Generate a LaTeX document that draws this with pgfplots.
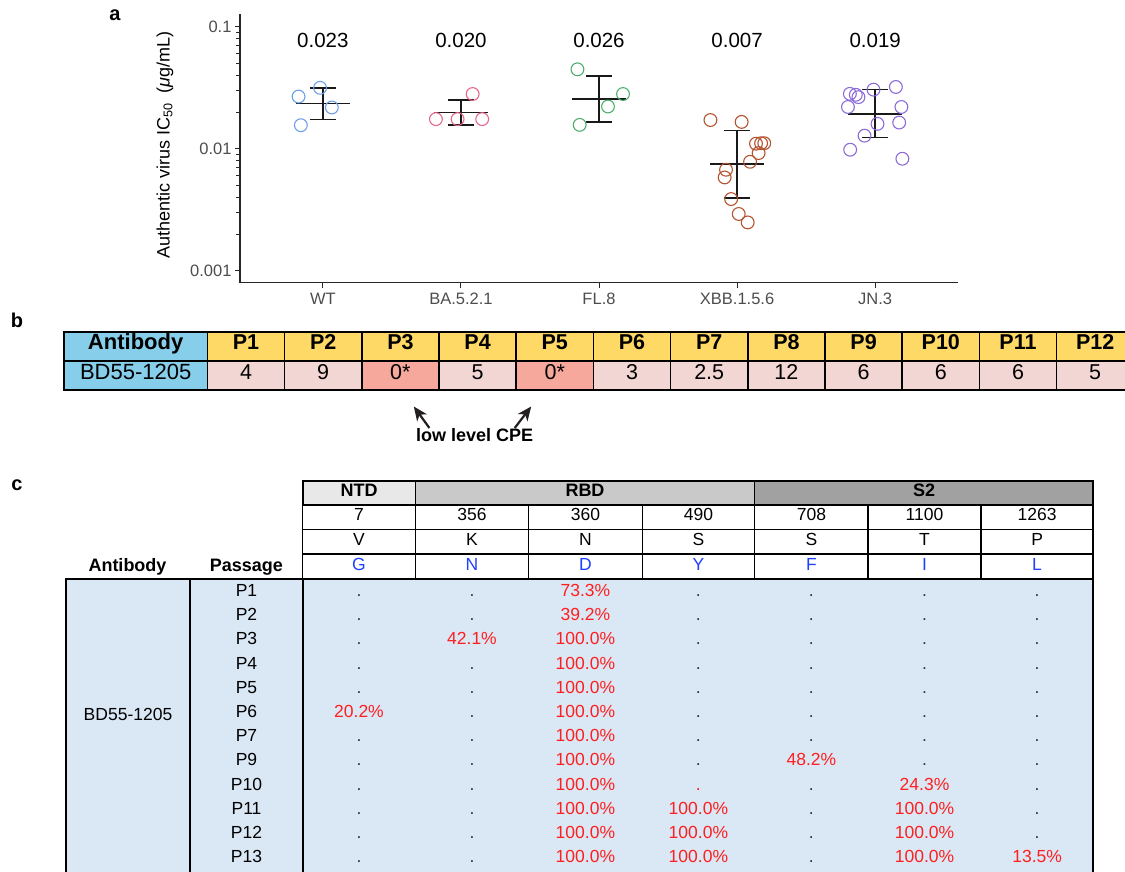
\documentclass[border=0pt]{standalone}
\usepackage{fontspec}
\setmainfont{Liberation Sans}
\usepackage{pgfplots}
\pgfplotsset{compat=1.18}
\usetikzlibrary{arrows.meta}
\newcommand\fs[1]{\fontsize{#1}{#1}\selectfont}
\definecolor{cwt}{HTML}{6D9EEB}
\definecolor{cba}{HTML}{E8668A}
\definecolor{cfl}{HTML}{4DAF6E}
\definecolor{cxbb}{HTML}{B4532E}
\definecolor{cjn}{HTML}{8C6AD8}
\definecolor{skyb}{HTML}{87CEEB}
\definecolor{yel}{HTML}{FFD966}
\definecolor{pinkc}{HTML}{F2D6D3}
\definecolor{salm}{HTML}{F5A89B}
\definecolor{ntd}{HTML}{E8E8E8}
\definecolor{rbd}{HTML}{C9C9C9}
\definecolor{stwo}{HTML}{A1A1A1}
\definecolor{bodyb}{HTML}{DAE8F6}
\definecolor{mutb}{HTML}{1F3FFF}
\definecolor{redc}{HTML}{FF1F1F}
\definecolor{dotc}{HTML}{333333}
\definecolor{tickg}{HTML}{4D4D4D}
\definecolor{arrc}{HTML}{231F20}
\newcommand\dt{\textcolor{dotc}{.}}
\newcommand\pc[1]{\textcolor{redc}{#1\%}}
\tikzset{tc/.style={text height=0.716em, text depth=0pt, inner sep=0pt, anchor=center}}
\newcommand\crow[9]{%
  \node[tc] at (246.5,#1) {#2};
  \node[tc] at (359,#1) {#3};
  \node[tc] at (472,#1) {#4};
  \node[tc] at (585.4,#1) {#5};
  \node[tc] at (698.4,#1) {#6};
  \node[tc] at (811.4,#1) {#7};
  \node[tc] at (924.5,#1) {#8};
  \node[tc] at (1037.1,#1) {#9};
}
\begin{document}
\begin{tikzpicture}
\useasboundingbox (0pt,0pt) rectangle (1125pt,871pt);
\clip (0pt,0pt) rectangle (1125pt,871pt);
\begin{axis}[
  at={(240pt,588.3pt)}, anchor=south west, scale only axis,
  width=718pt, height=269pt,
  ymode=log, ymin=0.000798, ymax=0.128, xmin=-0.6, xmax=4.6,
  axis x line*=bottom, axis y line*=left,
  axis line style={-, line width=1.2pt, black!85},
  xtick={0,1,2,3,4}, xticklabels={WT,BA.5.2.1,FL.8,XBB.1.5.6,JN.3},
  ytick={0.001,0.01,0.1}, yticklabels={0.001,0.01,0.1},
  minor ytick={0.002,0.003,0.004,0.005,0.006,0.007,0.008,0.009,0.02,0.03,0.04,0.05,0.06,0.07,0.08,0.09},
  tick align=outside, major tick length=5pt, minor tick length=4pt,
  tick style={line width=1pt, black!85},
  ticklabel style={font=\fs{16.5}, text=tickg},
  xticklabel style={yshift=-2pt},
  ylabel={Authentic virus IC\textsubscript{50}\ \ (\textit{μ}g/mL)},
  ylabel style={font=\fs{18}, at={(axis description cs:-0.1045,0.511)}, anchor=center},
  clip=false,
]
% error bars: vertical, caps, mean
\addplot[black!90, line width=1.5pt] coordinates {(0,0.0173) (0,0.0314)};
\addplot[black!90, line width=1.5pt] coordinates {(-0.094,0.0173) (0.094,0.0173)};
\addplot[black!90, line width=1.5pt] coordinates {(-0.094,0.0314) (0.094,0.0314)};
\addplot[black!90, line width=1.5pt] coordinates {(-0.195,0.0234) (0.195,0.0234)};
\addplot[black!90, line width=1.5pt] coordinates {(1,0.0157) (1,0.0251)};
\addplot[black!90, line width=1.5pt] coordinates {(0.906,0.0157) (1.094,0.0157)};
\addplot[black!90, line width=1.5pt] coordinates {(0.906,0.0251) (1.094,0.0251)};
\addplot[black!90, line width=1.5pt] coordinates {(0.805,0.0199) (1.195,0.0199)};
\addplot[black!90, line width=1.5pt] coordinates {(2,0.0166) (2,0.0396)};
\addplot[black!90, line width=1.5pt] coordinates {(1.906,0.0166) (2.094,0.0166)};
\addplot[black!90, line width=1.5pt] coordinates {(1.906,0.0396) (2.094,0.0396)};
\addplot[black!90, line width=1.5pt] coordinates {(1.805,0.0257) (2.195,0.0257)};
\addplot[black!90, line width=1.5pt] coordinates {(3,0.00394) (3,0.0141)};
\addplot[black!90, line width=1.5pt] coordinates {(2.906,0.00394) (3.094,0.00394)};
\addplot[black!90, line width=1.5pt] coordinates {(2.906,0.0141) (3.094,0.0141)};
\addplot[black!90, line width=1.5pt] coordinates {(2.805,0.00748) (3.195,0.00748)};
\addplot[black!90, line width=1.5pt] coordinates {(4,0.0124) (4,0.0305)};
\addplot[black!90, line width=1.5pt] coordinates {(3.906,0.0124) (4.094,0.0124)};
\addplot[black!90, line width=1.5pt] coordinates {(3.906,0.0305) (4.094,0.0305)};
\addplot[black!90, line width=1.5pt] coordinates {(3.805,0.0192) (4.195,0.0192)};
% points
\addplot[only marks, mark=o, mark size=6.4pt, color=cwt, mark options={line width=1.1pt}] coordinates {(-0.176,0.0268) (-0.02,0.0316) (0.065,0.0218) (-0.159,0.0156)};
\addplot[only marks, mark=o, mark size=6.4pt, color=cba, mark options={line width=1.1pt}] coordinates {(0.819,0.0175) (0.976,0.0175) (1.154,0.0175) (1.085,0.0281)};
\addplot[only marks, mark=o, mark size=6.4pt, color=cfl, mark options={line width=1.1pt}] coordinates {(1.844,0.0448) (2.174,0.0281) (2.065,0.0222) (1.86,0.0157)};
\addplot[only marks, mark=o, mark size=6.4pt, color=cxbb, mark options={line width=1.1pt}] coordinates {(2.807,0.0172) (3.033,0.0166) (3.137,0.0110) (3.174,0.0111) (3.197,0.0111) (3.156,0.00922) (3.094,0.00782) (2.92,0.00673) (2.91,0.00582) (2.957,0.00387) (3.012,0.00292) (3.077,0.00249)};
\addplot[only marks, mark=o, mark size=6.4pt, color=cjn, mark options={line width=1.1pt}] coordinates {(3.817,0.0282) (3.86,0.0277) (3.879,0.0265) (3.988,0.0305) (4.15,0.0321) (3.803,0.0220) (4.19,0.0220) (4.017,0.0160) (4.174,0.0164) (3.923,0.0128) (3.819,0.00982) (4.197,0.00828)};
\node[font=\fs{20.5}] at (axis cs:0,0.0778) {0.023};
\node[font=\fs{20.5}] at (axis cs:1,0.0778) {0.020};
\node[font=\fs{20.5}] at (axis cs:2,0.0778) {0.026};
\node[font=\fs{20.5}] at (axis cs:3,0.0778) {0.007};
\node[font=\fs{20.5}] at (axis cs:4,0.0778) {0.019};
\end{axis}
\begin{scope}[x=1pt, y=-1pt, yshift=871pt]
% panel labels
\node[font=\fs{20}\bfseries, tc] at (115,17) {a};
\node[font=\fs{20}\bfseries, tc] at (17,324) {b};
\node[font=\fs{20}\bfseries, tc] at (17,487) {c};
% ---- table b
\fill[skyb] (63.9,331.7) rectangle (207.4,390);
\fill[yel] (207.4,331.7) rectangle (1140,361);
\fill[pinkc] (207.4,361) rectangle (1140,390);
\fill[salm] (361.8,361) rectangle (439,390);
\fill[salm] (516.2,361) rectangle (593.4,390);
\draw[line width=1.6pt] (63.9,361) -- (1140,361);
\foreach \i in {0,...,12} {\draw[line width=1.6pt] ({207.4+77.2*\i},331.7) -- ({207.4+77.2*\i},390);}
\draw[line width=2pt] (63.9,331.7) rectangle (1140,390);
\node[tc, font=\fs{22}\bfseries] at (135.65,346.35) {Antibody};
\node[tc, font=\fs{22}] at (135.65,375.5) {BD55-1205};
\foreach \h/\v [count=\i from 0] in {P1/4,P2/9,P3/0*,P4/5,P5/0*,P6/3,P7/2.5,P8/12,P9/6,P10/6,P11/6,P12/5} {
  \node[tc, font=\fs{21.5}\bfseries] at ({246+77.2*\i},346.35) {\h};
  \node[tc, font=\fs{21.5}] at ({246+77.2*\i},375.5) {\v};
}
\draw[arrc, line width=2.2pt, -{Stealth[length=14pt,width=12pt,inset=4pt]}] (429.4,428) -- (413.8,406.5);
\draw[arrc, line width=2.2pt, -{Stealth[length=14pt,width=12pt,inset=4pt]}] (514.7,428) -- (531.2,406.5);
\node[tc, font=\fs{18}\bfseries] at (474.6,438.3) {low level CPE};
% ---- table c
\fill[ntd] (302.5,481) rectangle (415.4,505);
\fill[rbd] (415.4,481) rectangle (754.6,505);
\fill[stwo] (754.6,481) rectangle (1093.3,505);
\fill[bodyb] (66,579) rectangle (1093.3,880);
\draw[line width=1.6pt] (415.4,481) -- (415.4,505);
\draw[line width=1.6pt] (754.6,481) -- (754.6,505);
\draw[line width=2pt] (302.5,481) rectangle (1093.3,505);
\draw[line width=1.4pt] (302.5,529.3) -- (1093.3,529.3);
\draw[line width=1.6pt] (302.5,554) -- (1093.3,554);
\draw[line width=1.4pt] (302.5,579) -- (1093.3,579);
\foreach \x in {302.5,415.4,528.6,642.2,754.6,868.1,980.9,1093.3} {\draw[line width=1.4pt] (\x,505) -- (\x,579);}
\draw[line width=2.2pt] (66,880) -- (66,579) -- (302.9,579);
\draw[line width=2.2pt] (190,579) -- (190,880);
\draw[line width=2.2pt] (302.9,579) -- (302.9,880);
\draw[line width=2.2pt] (1093.3,505) -- (1093.3,880);
\begin{scope}[font=\fs{18}\bfseries]
\node[tc] at (359,493) {NTD};
\node[tc] at (585,493) {RBD};
\node[tc] at (924,493) {S2};
\node[tc] at (127.5,568.3) {Antibody};
\node[tc] at (246.4,568.3) {Passage};
\end{scope}
\begin{scope}[font=\fs{17.5}]
\foreach \x/\a/\b/\c in {359/7/V/G,472/356/K/N,585.4/360/N/D,698.4/490/S/Y,811.4/708/S/F,924.5/1100/T/I,1037.1/1263/P/L} {
  \node[tc] at (\x,517.2) {\a};
  \node[tc] at (\x,541.7) {\b};
  \node[tc, text=mutb] at (\x,566.5) {\c};
}
\node[tc] at (128,717) {BD55-1205};
\crow{593}{P1}{\dt}{\dt}{\pc{73.3}}{\dt}{\dt}{\dt}{\dt}
\crow{617.2}{P2}{\dt}{\dt}{\pc{39.2}}{\dt}{\dt}{\dt}{\dt}
\crow{641.4}{P3}{\dt}{\pc{42.1}}{\pc{100.0}}{\dt}{\dt}{\dt}{\dt}
\crow{665.6}{P4}{\dt}{\dt}{\pc{100.0}}{\dt}{\dt}{\dt}{\dt}
\crow{689.8}{P5}{\dt}{\dt}{\pc{100.0}}{\dt}{\dt}{\dt}{\dt}
\crow{714}{P6}{\pc{20.2}}{\dt}{\pc{100.0}}{\dt}{\dt}{\dt}{\dt}
\crow{738.2}{P7}{\dt}{\dt}{\pc{100.0}}{\dt}{\dt}{\dt}{\dt}
\crow{762.4}{P9}{\dt}{\dt}{\pc{100.0}}{\dt}{\pc{48.2}}{\dt}{\dt}
\crow{786.6}{P10}{\dt}{\dt}{\pc{100.0}}{\textcolor{redc}{.}}{\dt}{\pc{24.3}}{\dt}
\crow{810.8}{P11}{\dt}{\dt}{\pc{100.0}}{\pc{100.0}}{\dt}{\pc{100.0}}{\dt}
\crow{835}{P12}{\dt}{\dt}{\pc{100.0}}{\pc{100.0}}{\dt}{\pc{100.0}}{\dt}
\crow{859.2}{P13}{\dt}{\dt}{\pc{100.0}}{\pc{100.0}}{\dt}{\pc{100.0}}{\pc{13.5}}
\end{scope}
\end{scope}
\end{tikzpicture}
\end{document}
